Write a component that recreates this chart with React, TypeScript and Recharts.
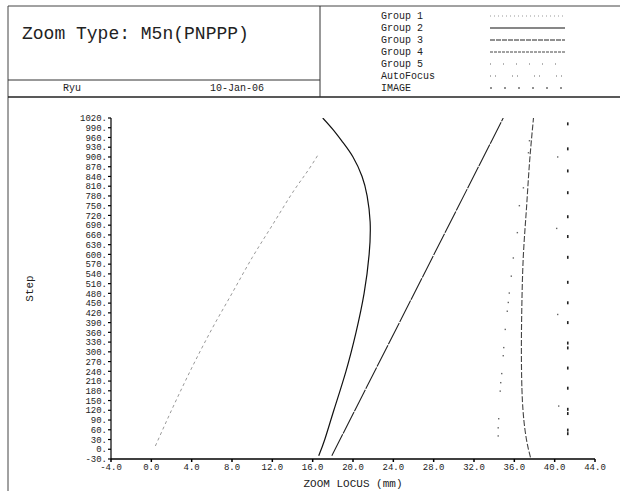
import { ComposedChart, Line, Scatter, XAxis, YAxis, Label } from 'recharts';

// tick labels
const xTicks = [-4, 0, 4, 8, 12, 16, 20, 24, 28, 32, 36, 40, 44];
const yTicks = [-30, 0, 30, 60, 90, 120, 150, 180, 210, 240, 270, 300, 330, 360, 390, 420, 450, 480, 510, 540, 570, 600, 630, 660, 690, 720, 750, 780, 810, 840, 870, 900, 930, 960, 990, 1020];

// series (x = zoom locus mm, step = motor step)
const group1X = [0.4, 2.0, 4.0, 6.0, 8.0, 10.0, 12.0, 14.0, 16.0, 16.6];
const group1Step = [10, 120, 250, 370, 480, 590, 690, 790, 880, 910];

const group2X = [16.6, 17.2, 18.1, 19.3, 20.3, 21.1, 21.6, 21.7, 21.4, 20.9, 20.0, 19.0, 18.0, 17.0];
const group2Step = [-20, 30, 120, 240, 360, 480, 600, 700, 780, 840, 900, 945, 985, 1020];

const group3X = [17.9, 34.9];
const group3Step = [-20, 1020];

const group4X = [37.6, 37.4, 37.1, 36.8, 36.7, 36.75, 36.9, 37.2, 37.5, 37.9];
const group4Step = [-25, 0, 50, 150, 300, 450, 600, 740, 880, 1020];

const group5X = [34.4, 34.4, 34.45, 34.6, 34.65, 34.75, 34.9, 34.95, 35.1, 35.3, 35.4, 35.5, 35.7, 35.9, 36.3, 36.5, 36.9, 37.4, 37.5];
const group5Step = [41, 66, 94, 179, 205, 233, 288, 313, 369, 425, 452, 481, 533, 589, 667, 750, 805, 913, 950];

const afX = [40.3, 40.2, 40.3, 40.4];
const afStep = [900, 680, 415, 133];

const imageX = [41.3, 41.3, 41.3, 41.3, 41.3, 41.3, 41.3, 41.3, 41.3, 41.3, 41.3, 41.3, 41.3, 41.3, 41.3, 41.3, 41.3, 41.3];
const imageStep = [1002, 925, 857, 790, 716, 655, 591, 514, 451, 390, 327, 312, 250, 188, 123, 110, 59, 48];

const legendNames = ['Group 1', 'Group 2', 'Group 3', 'Group 4', 'Group 5', 'AutoFocus', 'IMAGE'];

const toPts = (xs: number[], ys: number[]) => xs.map((x, i) => ({ x, y: ys[i] }));

const mono = '"Liberation Mono", "DejaVu Sans Mono", monospace';

const ImageMark = (props: any) => (
  <rect x={props.cx - 0.8} y={props.cy - 1.5} width={1.6} height={3} fill="#222" />
);
const Dot = (props: any) => (
  <rect x={props.cx - 0.7} y={props.cy - 0.7} width={1.4} height={1.4} fill="#666" />
);

const Header = () => {
  const rowY = [16, 28, 40, 52, 64, 76, 88];
  const samples = [
    { dash: '1 3', stroke: '#999', w: 1 },
    { dash: undefined, stroke: '#111', w: 1.2 },
    { dash: '5 1', stroke: '#222', w: 1 },
    { dash: '3 1', stroke: '#444', w: 1 },
    { dash: '1 12', stroke: '#666', w: 1 },
    { dash: '1 4 1 16', stroke: '#666', w: 1 },
    { dash: '2 12', stroke: '#222', w: 1 },
  ];
  return (
    <svg width={624} height={491} style={{ position: 'absolute', left: 0, top: 0, pointerEvents: 'none' }}>
      <line x1={8} y1={6} x2={620} y2={6} stroke="#444" strokeWidth={1} />
      <line x1={8} y1={6} x2={8} y2={491} stroke="#444" strokeWidth={1} />
      <line x1={8} y1={97} x2={620} y2={97} stroke="#222" strokeWidth={1.5} />
      <line x1={320} y1={6} x2={320} y2={97} stroke="#333" strokeWidth={1} />
      <line x1={8} y1={80} x2={320} y2={80} stroke="#333" strokeWidth={1} />
      <text x={22} y={39} fontFamily={mono} fontSize={18} fill="#222">Zoom Type: M5n(PNPPP)</text>
      <text x={72} y={91} fontFamily={mono} fontSize={10} fill="#222" textAnchor="middle">Ryu</text>
      <text x={210} y={91} fontFamily={mono} fontSize={10} fill="#222">10-Jan-06</text>
      {legendNames.map((name, i) => (
        <g key={name}>
          <text x={381} y={rowY[i] + 3} fontFamily={mono} fontSize={10} fill="#222">{name}</text>
          <line x1={490} y1={rowY[i]} x2={565} y2={rowY[i]} stroke={samples[i].stroke}
            strokeWidth={samples[i].w} strokeDasharray={samples[i].dash} />
        </g>
      ))}
    </svg>
  );
};

export default function App() {
  return (
    <div style={{ position: 'absolute', left: 0, top: 0, width: 624, height: 491, background: '#fff' }}>
      <ComposedChart width={624} height={491} margin={{ top: 118, right: 29, bottom: 12, left: 71 }}>
        <XAxis type="number" dataKey="x" domain={[-4, 44]} ticks={xTicks} allowDataOverflow
          tickFormatter={(v) => v.toFixed(1)} tick={{ fontFamily: mono, fontSize: 9, fill: '#222' }}
          stroke="#000" strokeWidth={1.5} tickSize={3} height={20}>
          <Label value="ZOOM LOCUS (mm)" position="insideBottom" offset={-8}
            style={{ fontFamily: mono, fontSize: 11, fill: '#222' }} />
        </XAxis>
        <YAxis type="number" dataKey="y" domain={[-30, 1020]} ticks={yTicks} allowDataOverflow interval={0}
          tickFormatter={(v) => `${v}.`} tick={{ fontFamily: mono, fontSize: 9, fill: '#222' }}
          stroke="#000" strokeWidth={1.2} tickSize={3} tickMargin={1} width={40}>
          <Label value="Step" angle={-90} position="insideLeft" offset={-42}
            style={{ fontFamily: mono, fontSize: 11, fill: '#222', textAnchor: 'middle' }} />
        </YAxis>
        <Line data={toPts(group1X, group1Step)} dataKey="y" type="monotone" stroke="#999" strokeWidth={1}
          strokeDasharray="3 3" dot={false} isAnimationActive={false} />
        <Line data={toPts(group2X, group2Step)} dataKey="y" type="natural" stroke="#111" strokeWidth={1.2}
          dot={false} isAnimationActive={false} />
        <Line data={toPts(group3X, group3Step)} dataKey="y" type="linear" stroke="#222" strokeWidth={1.1}
          strokeDasharray="24 1" dot={false} isAnimationActive={false} />
        <Line data={toPts(group4X, group4Step)} dataKey="y" type="natural" stroke="#444" strokeWidth={1.1}
          strokeDasharray="6 2" dot={false} isAnimationActive={false} />
        <Scatter data={toPts(group5X, group5Step)} shape={<Dot />} isAnimationActive={false} />
        <Scatter data={toPts(afX, afStep)} shape={<Dot />} isAnimationActive={false} />
        <Scatter data={toPts(imageX, imageStep)} shape={<ImageMark />} isAnimationActive={false} />
      </ComposedChart>
      <Header />
    </div>
  );
}
